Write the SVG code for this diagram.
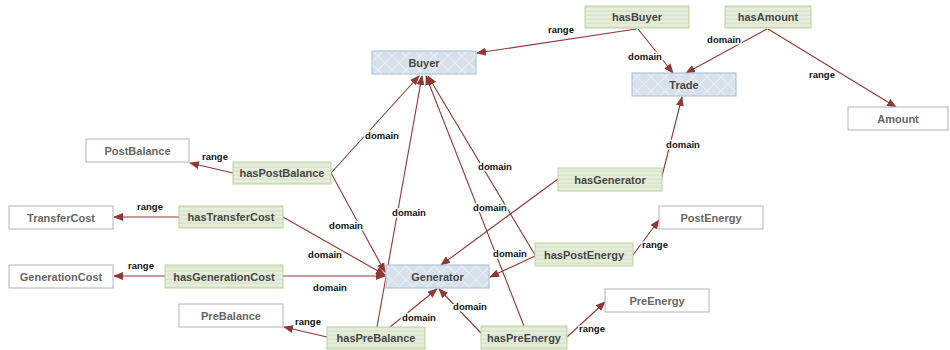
<svg xmlns="http://www.w3.org/2000/svg" width="950" height="350" viewBox="0 0 950 350">
  <defs>
    <pattern id="hatch" width="14" height="14" patternUnits="userSpaceOnUse">
      <rect width="14" height="14" fill="#d7e1ec"/>
      <path d="M0,0 L14,14 M14,0 L0,14" stroke="#e9eef5" stroke-width="1.2"/>
    </pattern>
    <pattern id="stripes" width="4" height="4" patternUnits="userSpaceOnUse">
      <rect width="4" height="4" fill="#e6eedb"/>
      <rect y="2.5" width="4" height="1.2" fill="#d5e3c3"/>
    </pattern>
    <marker id="arrow" markerWidth="10" markerHeight="8" refX="9" refY="4" orient="auto" markerUnits="userSpaceOnUse">
      <path d="M0,0 L10,4 L0,8 z" fill="#8e3934"/>
    </marker>
  </defs>
  <style>
    .cls rect { fill: url(#hatch); stroke: #a3bcdc; stroke-width: 1; }
    .prop rect { fill: url(#stripes); stroke: #bcd49e; stroke-width: 1; }
    .lit rect { fill: #ffffff; stroke: #b3b3b3; stroke-width: 1; }
    .node text { font-family: "Liberation Sans", Arial, sans-serif; font-size: 11px; font-weight: bold; fill: #474747; text-anchor: middle; }
    .lit text { fill: #666; }
    .edges path { fill: none; stroke: #8e3934; stroke-width: 1.1; marker-end: url(#arrow); }
    .labels text { font-family: "Liberation Sans", Arial, sans-serif; font-size: 9.5px; font-weight: bold; fill: #111; text-anchor: middle; stroke: #fff; stroke-width: 3; paint-order: stroke; stroke-linejoin: round; }
  </style>

  <!-- connectors -->
  <g id="connectors" class="edges">
    <path d="M636,29 L477,53"/>
    <path d="M638,29 L673,73"/>
    <path d="M767,29 L686,73"/>
    <path d="M768,29 L896,107"/>
    <path d="M661,180 L682,97"/>
    <path d="M233,173 L190,163"/>
    <path d="M331,173 L419,76"/>
    <path d="M331,173 L385,272"/>
    <path d="M179,217 L114,217"/>
    <path d="M283,217 L385,275"/>
    <path d="M165,276 L114,276"/>
    <path d="M283,276 L385,276"/>
    <path d="M327,337 L284,327"/>
    <path d="M377,327 L422,76"/>
    <path d="M390,327 L437,289"/>
    <path d="M535,255 L428,76"/>
    <path d="M535,256 L490,277"/>
    <path d="M633,255 L659,220"/>
    <path d="M524,326 L426,76"/>
    <path d="M481,333 L439,289"/>
    <path d="M567,337 L605,302"/>
    <path d="M558,179 L441,265"/>
  </g>

  <!-- edge labels -->
  <g id="edge-labels" class="labels">
    <text x="561" y="33">range</text>
    <text x="645" y="60">domain</text>
    <text x="724" y="43">domain</text>
    <text x="822" y="78">range</text>
    <text x="683" y="148">domain</text>
    <text x="215" y="160">range</text>
    <text x="382" y="139">domain</text>
    <text x="346" y="229">domain</text>
    <text x="150" y="210">range</text>
    <text x="325" y="258">domain</text>
    <text x="141" y="269">range</text>
    <text x="330" y="291">domain</text>
    <text x="308" y="325">range</text>
    <text x="409" y="216">domain</text>
    <text x="419" y="321">domain</text>
    <text x="495" y="170">domain</text>
    <text x="490" y="211">domain</text>
    <text x="510" y="257">domain</text>
    <text x="655" y="248">range</text>
    <text x="470" y="310">domain</text>
    <text x="592" y="332">range</text>
  </g>

  <!-- class nodes -->
  <g id="Buyer" class="node cls"><rect x="372" y="51" width="104" height="23"/><text x="424" y="66.5">Buyer</text></g>
  <g id="Trade" class="node cls"><rect x="632" y="73" width="104" height="23"/><text x="684" y="88.5">Trade</text></g>
  <g id="Generator" class="node cls"><rect x="386" y="265" width="103" height="23"/><text x="437.5" y="280.5">Generator</text></g>

  <!-- property nodes -->
  <g id="hasBuyer" class="node prop"><rect x="585" y="6" width="104" height="22"/><text x="637" y="21">hasBuyer</text></g>
  <g id="hasAmount" class="node prop"><rect x="725" y="6" width="86" height="22"/><text x="768" y="21">hasAmount</text></g>
  <g id="hasPostBalance" class="node prop"><rect x="233" y="162" width="98" height="22"/><text x="282" y="177">hasPostBalance</text></g>
  <g id="hasTransferCost" class="node prop"><rect x="179" y="206" width="104" height="22"/><text x="231" y="221">hasTransferCost</text></g>
  <g id="hasGenerationCost" class="node prop"><rect x="165" y="265" width="118" height="23"/><text x="224" y="280.5">hasGenerationCost</text></g>
  <g id="hasPreBalance" class="node prop"><rect x="327" y="327" width="98" height="22"/><text x="376" y="342">hasPreBalance</text></g>
  <g id="hasGenerator" class="node prop"><rect x="558" y="168" width="104" height="23"/><text x="610" y="183.5">hasGenerator</text></g>
  <g id="hasPostEnergy" class="node prop"><rect x="535" y="243" width="98" height="23"/><text x="584" y="258.5">hasPostEnergy</text></g>
  <g id="hasPreEnergy" class="node prop"><rect x="481" y="326" width="86" height="23"/><text x="524" y="341.5">hasPreEnergy</text></g>

  <!-- datatype nodes -->
  <g id="Amount" class="node lit"><rect x="848" y="107" width="100" height="23"/><text x="898" y="122.5">Amount</text></g>
  <g id="PostBalance" class="node lit"><rect x="86" y="139" width="103" height="23"/><text x="137.5" y="154.5">PostBalance</text></g>
  <g id="TransferCost" class="node lit"><rect x="9" y="206" width="104" height="23"/><text x="61" y="221.5">TransferCost</text></g>
  <g id="GenerationCost" class="node lit"><rect x="9" y="265" width="104" height="23"/><text x="61" y="280.5">GenerationCost</text></g>
  <g id="PreBalance" class="node lit"><rect x="179" y="304" width="104" height="23"/><text x="231" y="319.5">PreBalance</text></g>
  <g id="PostEnergy" class="node lit"><rect x="659" y="206" width="104" height="23"/><text x="711" y="221.5">PostEnergy</text></g>
  <g id="PreEnergy" class="node lit"><rect x="605" y="289" width="104" height="23"/><text x="657" y="304.5">PreEnergy</text></g>
</svg>
